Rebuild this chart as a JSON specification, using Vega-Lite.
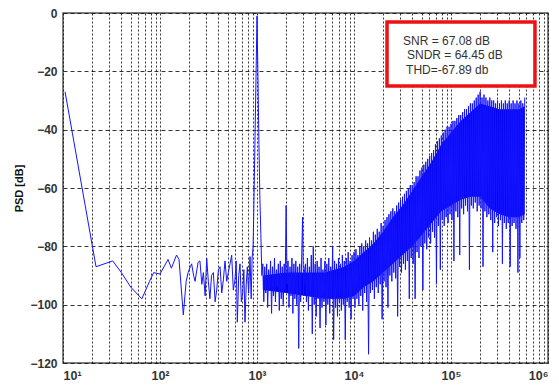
{
  "$schema": "https://vega.github.io/schema/vega-lite/v6.json",
  "width": 485,
  "height": 350,
  "autosize": {"type": "none"},
  "padding": {"left": 63, "top": 13, "right": 11, "bottom": 22},
  "background": "white",
  "config": {
    "view": {"stroke": "#555", "strokeWidth": 1.5},
    "axis": {"labelFont": "Liberation Sans", "labelFontWeight": "bold", "labelFontSize": 12, "labelColor": "#333", "titleFont": "Liberation Sans", "domain": false, "ticks": false}
  },
  "datasets": {
    "psd": [
      {"f": 10.5, "p": -27}, {"f": 21.9, "p": -87}, {"f": 32.5, "p": -85}, {"f": 40, "p": -89}, {"f": 50, "p": -94}, {"f": 65, "p": -98},
      {"f": 78, "p": -92}, {"f": 86, "p": -89}, {"f": 100, "p": -89.5}, {"f": 121, "p": -84.5}, {"f": 131, "p": -87.5}, {"f": 148, "p": -83},
      {"f": 157, "p": -84.5}, {"f": 174, "p": -103.5}, {"f": 186, "p": -92}, {"f": 195, "p": -89}, {"f": 205, "p": -87}, {"f": 212, "p": -86},
      {"f": 222, "p": -90}, {"f": 230, "p": -92}, {"f": 240, "p": -88}, {"f": 247, "p": -85.5}, {"f": 258, "p": -85}, {"f": 270, "p": -93},
      {"f": 280, "p": -89}, {"f": 292, "p": -97}, {"f": 303, "p": -84}, {"f": 315, "p": -92}, {"f": 327, "p": -98}, {"f": 340, "p": -90},
      {"f": 355, "p": -89}, {"f": 370, "p": -99}, {"f": 384, "p": -95}, {"f": 400, "p": -88}, {"f": 416, "p": -87}, {"f": 433, "p": -96},
      {"f": 450, "p": -91.5}, {"f": 468, "p": -85}, {"f": 487, "p": -92}, {"f": 506, "p": -89}, {"f": 527, "p": -86}, {"f": 548, "p": -83},
      {"f": 570, "p": -95}, {"f": 593, "p": -91.5}, {"f": 610, "p": -85}, {"f": 627, "p": -106}, {"f": 648, "p": -90}, {"f": 668, "p": -86},
      {"f": 690, "p": -99}, {"f": 712, "p": -96}, {"f": 732, "p": -88}, {"f": 752, "p": -106}, {"f": 775, "p": -93}, {"f": 795, "p": -87},
      {"f": 820, "p": -96}, {"f": 847, "p": -83.5}, {"f": 871, "p": -98}, {"f": 891, "p": -84}, {"f": 912, "p": -80}, {"f": 933, "p": -62},
      {"f": 955, "p": -42}, {"f": 977, "p": -22}, {"f": 1000, "p": -1}, {"f": 1023, "p": -22}, {"f": 1047, "p": -45}, {"f": 1072, "p": -64},
      {"f": 1096, "p": -76}, {"f": 1122, "p": -90}, {"f": 1148, "p": -86}, {"f": 1175, "p": -99}, {"f": 1202, "p": -87}, {"f": 1230, "p": -96},
      {"f": 1259, "p": -86}, {"f": 1288, "p": -101}, {"f": 1318, "p": -88}, {"f": 1349, "p": -95}, {"f": 1380, "p": -85}, {"f": 1413, "p": -103},
      {"f": 1445, "p": -87}, {"f": 1479, "p": -97}, {"f": 1514, "p": -84}, {"f": 1549, "p": -99}, {"f": 1585, "p": -88}, {"f": 1622, "p": -94},
      {"f": 1660, "p": -86}, {"f": 1698, "p": -102}, {"f": 1738, "p": -85}, {"f": 1778, "p": -98}, {"f": 1820, "p": -87}, {"f": 1862, "p": -100},
      {"f": 1905, "p": -86}, {"f": 1950, "p": -95}, {"f": 1995, "p": -66}, {"f": 2042, "p": -93}, {"f": 2089, "p": -85}, {"f": 2138, "p": -101},
      {"f": 2188, "p": -87}, {"f": 2239, "p": -97}, {"f": 2291, "p": -84}, {"f": 2344, "p": -103}, {"f": 2399, "p": -86}, {"f": 2455, "p": -98},
      {"f": 2512, "p": -85}, {"f": 2570, "p": -100}, {"f": 2630, "p": -87}, {"f": 2692, "p": -115}, {"f": 2754, "p": -86}, {"f": 2818, "p": -99},
      {"f": 2884, "p": -85}, {"f": 2951, "p": -70}, {"f": 3020, "p": -97}, {"f": 3090, "p": -88}, {"f": 3162, "p": -86}, {"f": 3236, "p": -99},
      {"f": 3311, "p": -84}, {"f": 3388, "p": -102}, {"f": 3467, "p": -87}, {"f": 3548, "p": -97}, {"f": 3631, "p": -83}, {"f": 3715, "p": -110},
      {"f": 3802, "p": -80}, {"f": 3890, "p": -100}, {"f": 3981, "p": -86}, {"f": 4074, "p": -104}, {"f": 4169, "p": -85}, {"f": 4266, "p": -98},
      {"f": 4365, "p": -87}, {"f": 4467, "p": -108}, {"f": 4571, "p": -84}, {"f": 4677, "p": -101}, {"f": 4786, "p": -88}, {"f": 4898, "p": -99},
      {"f": 5012, "p": -85}, {"f": 5129, "p": -107}, {"f": 5248, "p": -86}, {"f": 5370, "p": -100}, {"f": 5495, "p": -84}, {"f": 5623, "p": -103},
      {"f": 5754, "p": -87}, {"f": 5888, "p": -98}, {"f": 6026, "p": -80}, {"f": 6166, "p": -112}, {"f": 6310, "p": -85}, {"f": 6457, "p": -101},
      {"f": 6607, "p": -86}, {"f": 6761, "p": -104}, {"f": 6918, "p": -84}, {"f": 7079, "p": -99}, {"f": 7244, "p": -86}, {"f": 7413, "p": -102},
      {"f": 7586, "p": -83}, {"f": 7762, "p": -100}, {"f": 7943, "p": -85}, {"f": 8128, "p": -112}, {"f": 8318, "p": -84}, {"f": 8511, "p": -99},
      {"f": 8710, "p": -82}, {"f": 8913, "p": -101}, {"f": 9120, "p": -85}, {"f": 9333, "p": -105}, {"f": 9550, "p": -83}, {"f": 9772, "p": -98},
      {"f": 10000, "p": -82}, {"f": 10233, "p": -101}, {"f": 10471, "p": -81}, {"f": 10715, "p": -98}, {"f": 10965, "p": -83}, {"f": 11220, "p": -100},
      {"f": 11482, "p": -80}, {"f": 11749, "p": -97}, {"f": 12023, "p": -79}, {"f": 12303, "p": -102}, {"f": 12589, "p": -80}, {"f": 12882, "p": -96},
      {"f": 13183, "p": -78}, {"f": 13490, "p": -99}, {"f": 13804, "p": -79}, {"f": 14125, "p": -117}, {"f": 14454, "p": -77}, {"f": 14791, "p": -96},
      {"f": 15136, "p": -78}, {"f": 15488, "p": -95}, {"f": 15849, "p": -75}, {"f": 16218, "p": -98}, {"f": 16596, "p": -76}, {"f": 16982, "p": -94},
      {"f": 17378, "p": -74}, {"f": 17783, "p": -96}, {"f": 18197, "p": -75}, {"f": 18621, "p": -93}, {"f": 19055, "p": -72}, {"f": 19498, "p": -105},
      {"f": 19953, "p": -73}, {"f": 20417, "p": -92}, {"f": 20893, "p": -71}, {"f": 21380, "p": -94}, {"f": 21878, "p": -70}, {"f": 22387, "p": -101},
      {"f": 22909, "p": -69}, {"f": 23442, "p": -90}, {"f": 23988, "p": -68}, {"f": 24547, "p": -92}, {"f": 25119, "p": -67}, {"f": 25704, "p": -89},
      {"f": 26303, "p": -68}, {"f": 26915, "p": -91}, {"f": 27542, "p": -66}, {"f": 28184, "p": -104}, {"f": 28840, "p": -65}, {"f": 29512, "p": -87},
      {"f": 30200, "p": -64}, {"f": 30903, "p": -89}, {"f": 31623, "p": -63}, {"f": 32359, "p": -86}, {"f": 33113, "p": -62}, {"f": 33884, "p": -88},
      {"f": 34674, "p": -61}, {"f": 35481, "p": -85}, {"f": 36308, "p": -60}, {"f": 37154, "p": -98}, {"f": 38019, "p": -59}, {"f": 38905, "p": -84},
      {"f": 39811, "p": -59}, {"f": 40738, "p": -86}, {"f": 41687, "p": -58}, {"f": 42658, "p": -98}, {"f": 43652, "p": -56}, {"f": 44668, "p": -82},
      {"f": 45709, "p": -56}, {"f": 46774, "p": -84}, {"f": 47863, "p": -54}, {"f": 48978, "p": -80}, {"f": 50119, "p": -53}, {"f": 51286, "p": -95},
      {"f": 52481, "p": -52}, {"f": 53703, "p": -79}, {"f": 54954, "p": -51}, {"f": 56234, "p": -81}, {"f": 57544, "p": -50}, {"f": 58884, "p": -77},
      {"f": 60256, "p": -49}, {"f": 61660, "p": -79}, {"f": 63096, "p": -48}, {"f": 64565, "p": -75}, {"f": 66069, "p": -47}, {"f": 67608, "p": -77},
      {"f": 69183, "p": -45}, {"f": 70795, "p": -93}, {"f": 72444, "p": -44}, {"f": 74131, "p": -73}, {"f": 75858, "p": -43}, {"f": 77625, "p": -88},
      {"f": 79433, "p": -42}, {"f": 81283, "p": -71}, {"f": 83176, "p": -41}, {"f": 85114, "p": -73}, {"f": 87096, "p": -40}, {"f": 89125, "p": -70},
      {"f": 91201, "p": -39}, {"f": 93325, "p": -72}, {"f": 95499, "p": -39}, {"f": 97724, "p": -69}, {"f": 100000, "p": -38}, {"f": 102329, "p": -71},
      {"f": 104713, "p": -37}, {"f": 107152, "p": -85}, {"f": 109648, "p": -37}, {"f": 112202, "p": -68}, {"f": 114815, "p": -36}, {"f": 117490, "p": -70},
      {"f": 120226, "p": -35}, {"f": 123027, "p": -83}, {"f": 125893, "p": -35}, {"f": 128825, "p": -67}, {"f": 131826, "p": -34}, {"f": 134896, "p": -69},
      {"f": 138038, "p": -33}, {"f": 141254, "p": -66}, {"f": 144544, "p": -33}, {"f": 147911, "p": -68}, {"f": 151356, "p": -32}, {"f": 154882, "p": -88},
      {"f": 158489, "p": -31}, {"f": 162181, "p": -66}, {"f": 165959, "p": -31}, {"f": 169824, "p": -67}, {"f": 173780, "p": -30}, {"f": 177828, "p": -65},
      {"f": 181970, "p": -29}, {"f": 186209, "p": -68}, {"f": 190546, "p": -28}, {"f": 194984, "p": -66}, {"f": 199526, "p": -27}, {"f": 204174, "p": -67},
      {"f": 208930, "p": -29}, {"f": 213796, "p": -87}, {"f": 218776, "p": -28}, {"f": 223872, "p": -68}, {"f": 229087, "p": -29}, {"f": 234423, "p": -70},
      {"f": 239883, "p": -30}, {"f": 245471, "p": -69}, {"f": 251189, "p": -29}, {"f": 257040, "p": -71}, {"f": 263027, "p": -30}, {"f": 269153, "p": -82},
      {"f": 275423, "p": -30}, {"f": 281838, "p": -72}, {"f": 288403, "p": -31}, {"f": 295121, "p": -70}, {"f": 301995, "p": -30}, {"f": 309030, "p": -73},
      {"f": 316228, "p": -31}, {"f": 323594, "p": -71}, {"f": 331131, "p": -30}, {"f": 338844, "p": -86}, {"f": 346737, "p": -31}, {"f": 354813, "p": -72},
      {"f": 363078, "p": -30}, {"f": 371535, "p": -74}, {"f": 380189, "p": -31}, {"f": 389045, "p": -72}, {"f": 398107, "p": -30}, {"f": 407380, "p": -87},
      {"f": 416869, "p": -31}, {"f": 426580, "p": -73}, {"f": 436516, "p": -30}, {"f": 446684, "p": -72}, {"f": 457088, "p": -31}, {"f": 467735, "p": -74},
      {"f": 478630, "p": -30}, {"f": 489779, "p": -89}, {"f": 501187, "p": -31}, {"f": 512861, "p": -84}, {"f": 524807, "p": -30}, {"f": 537032, "p": -72},
      {"f": 549541, "p": -31}, {"f": 562341, "p": -71}, {"f": 575440, "p": -29}
    ],
    "band": [
      {"f": 1150, "hi": -90, "lo": -95}, {"f": 2000, "hi": -89, "lo": -96}, {"f": 3162, "hi": -89, "lo": -97}, {"f": 5012, "hi": -89, "lo": -98},
      {"f": 7943, "hi": -87, "lo": -98}, {"f": 10000, "hi": -85, "lo": -97}, {"f": 12589, "hi": -82, "lo": -94}, {"f": 15849, "hi": -79, "lo": -92},
      {"f": 19953, "hi": -75, "lo": -89}, {"f": 25119, "hi": -70, "lo": -86}, {"f": 31623, "hi": -66, "lo": -83}, {"f": 39811, "hi": -61, "lo": -80},
      {"f": 50119, "hi": -56, "lo": -76}, {"f": 63096, "hi": -51, "lo": -72}, {"f": 79433, "hi": -45, "lo": -68}, {"f": 100000, "hi": -41, "lo": -66},
      {"f": 125893, "hi": -37, "lo": -64}, {"f": 158489, "hi": -34, "lo": -63}, {"f": 199526, "hi": -31, "lo": -63}, {"f": 251189, "hi": -32, "lo": -67},
      {"f": 316228, "hi": -33, "lo": -69}, {"f": 398107, "hi": -33, "lo": -70}, {"f": 501187, "hi": -33, "lo": -70}, {"f": 575440, "hi": -32, "lo": -69}
    ],
    "box": [{"x1": 21900, "x2": 734000, "y1": -3.1, "y2": -25}],
    "notes": [
      {"x": 32000, "y": -9.5, "t": "SNR = 67.08 dB"},
      {"x": 35200, "y": -14.4, "t": "SNDR = 64.45 dB"},
      {"x": 34400, "y": -19.4, "t": "THD=-67.89 db"}
    ]
  },
  "layer": [
    {
      "data": {"name": "band"},
      "mark": {"type": "area", "color": "#0000ee", "opacity": 1},
      "encoding": {
        "x": {"field": "f", "type": "quantitative", "scale": {"type": "log", "domain": [10, 1000000], "nice": false},
          "axis": {"title": null, "values": [10,20,30,40,50,60,70,80,90,100,200,300,400,500,600,700,800,900,1000,2000,3000,4000,5000,6000,7000,8000,9000,10000,20000,30000,40000,50000,60000,70000,80000,90000,100000,200000,300000,400000,500000,600000,700000,800000,900000,1000000],
            "labelExpr": "abs(log(datum.value)/LN10 - round(log(datum.value)/LN10)) < 0.001 ? '10' + ['⁰','¹','²','³','⁴','⁵','⁶'][round(log(datum.value)/LN10)] : ''",
            "labelPadding": 6, "labelBaseline": "top", "labelFontSize": 12.5, "labelOverlap": false,
            "grid": true, "gridColor": "#111", "gridDash": [2, 2], "gridWidth": 1, "gridOpacity": 0.85}},
        "y": {"field": "hi", "type": "quantitative", "scale": {"domain": [-120, 0], "nice": false},
          "axis": {"title": "PSD [dB]", "values": [0,-20,-40,-60,-80,-100,-120], "labelPadding": 6,
            "titleFontSize": 11, "titleFontWeight": "bold", "titleColor": "#111", "titleX": -44, "titleY": 175, "titleAlign": "center", "titleBaseline": "middle",
            "grid": true, "gridColor": "#111", "gridDash": [4, 3], "gridWidth": 1, "gridOpacity": 0.85}},
        "y2": {"field": "lo"}
      }
    },
    {
      "data": {"name": "psd"},
      "mark": {"type": "line", "color": "#1414ff", "strokeWidth": 1},
      "encoding": {
        "x": {"field": "f", "type": "quantitative"},
        "y": {"field": "p", "type": "quantitative"}
      }
    },
    {
      "data": {"name": "box"},
      "mark": {"type": "rect", "fill": "white", "stroke": "#ee1111", "strokeWidth": 3.5},
      "encoding": {
        "x": {"field": "x1", "type": "quantitative"},
        "x2": {"field": "x2"},
        "y": {"field": "y1", "type": "quantitative"},
        "y2": {"field": "y2"}
      }
    },
    {
      "data": {"name": "notes"},
      "mark": {"type": "text", "align": "left", "baseline": "middle", "font": "Liberation Sans", "fontSize": 12, "color": "#333"},
      "encoding": {
        "x": {"field": "x", "type": "quantitative"},
        "y": {"field": "y", "type": "quantitative"},
        "text": {"field": "t"}
      }
    }
  ]
}
